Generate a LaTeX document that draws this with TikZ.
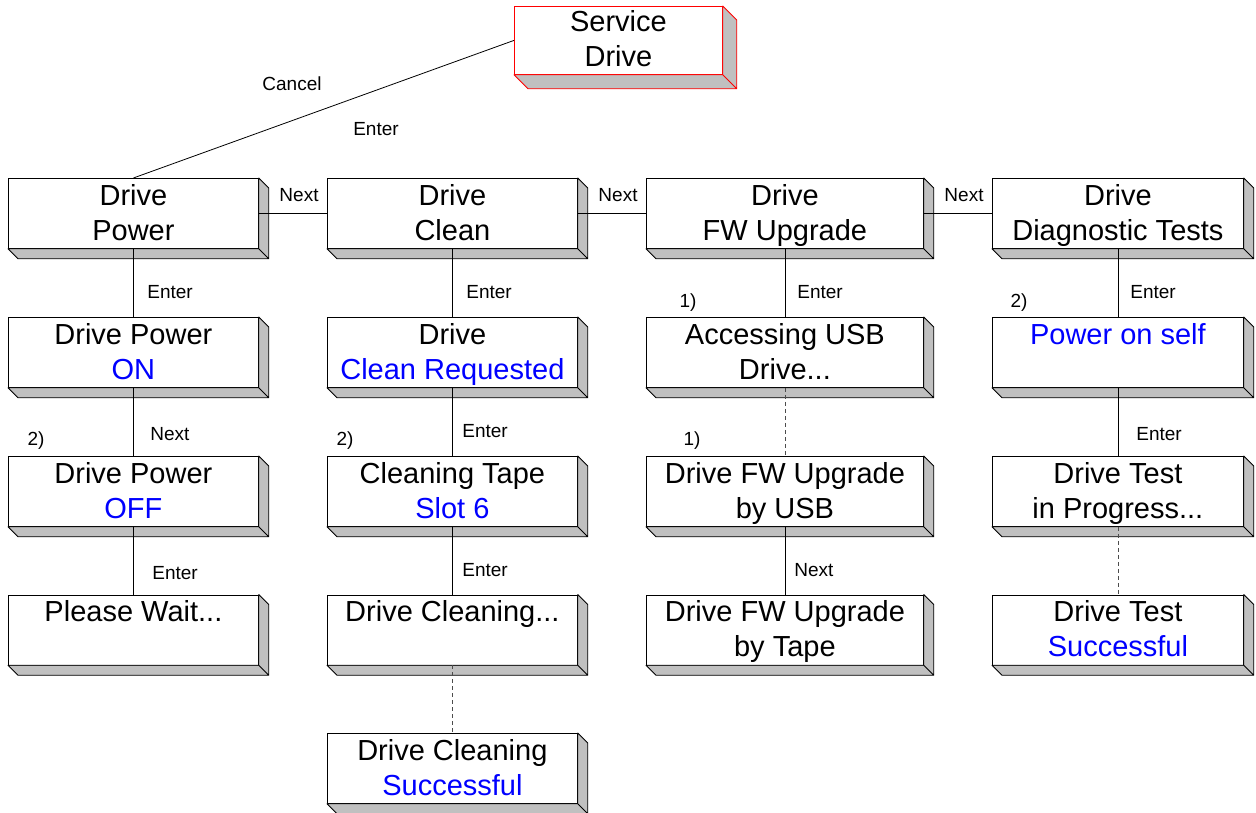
\documentclass[tikz,border=0pt]{standalone}
\usepackage{fontspec}
\setmainfont{Liberation Sans}
\usepackage{xcolor}
\usetikzlibrary{calc}
\definecolor{slabgray}{RGB}{192,192,192}
\definecolor{val}{RGB}{0,0,255}
\definecolor{svc}{RGB}{255,0,0}

\begin{document}
\begin{tikzpicture}[x=1pt,y=-1pt,line width=0.8pt,
    face/.style={draw,fill=white,anchor=north west,minimum height=70pt,inner sep=0pt},
    boxtext/.style={anchor=north,align=center,inner sep=0pt,font=\fontsize{29}{35}\selectfont},
    slab/.style={draw,fill=slabgray,line join=round},
    key/.style={font=\fontsize{19}{22}\selectfont,inner sep=0pt},
    hidden/.style={draw=black!70,dash pattern=on 4pt off 3pt}]
    \useasboundingbox (0,0) rectangle (1256,813);
    \node[face,draw=svc,minimum width=208pt,minimum height=68pt] (sd) at (514,6) {};
    \node[boxtext] (sd-t) at ([yshift=-4pt]sd.north) {Service\\Drive};
    \draw[slab,draw=svc] (sd.south west) -- ([shift={(14,14)}]sd.south west)
      -- ([shift={(14,14)}]sd.south east) -- ([shift={(14,14)}]sd.north east)
      -- (sd.north east) -- (sd.south east) -- cycle
      (sd.south east) -- ([shift={(14,14)}]sd.south east);
    \foreach \n/\x/\y/\w/\txt in {
      dpw/8/178/250/{Drive\\Power},
      dpwon/8/317/250/{Drive Power\\\textcolor{val}{ON}},
      dpwoff/8/456/250/{Drive Power\\\textcolor{val}{OFF}},
      wait/8/594.5/250/{Please Wait...},
      dcl/327/178/250/{Drive\\Clean},
      clreq/327/317/250/{Drive\\\textcolor{val}{Clean Requested}},
      tape/327/456/250/{Cleaning Tape\\\textcolor{val}{Slot 6}},
      cleaning/327/594.5/250/{Drive Cleaning...},
      clok/327/733/250/{Drive Cleaning\\\textcolor{val}{Successful}},
      dfw/646/178/277/{Drive\\FW Upgrade},
      usb/646/317/277/{Accessing USB\\Drive...},
      byusb/646/456/277/{Drive FW Upgrade\\by USB},
      bytape/646/594.5/277/{Drive FW Upgrade\\by Tape},
      ddg/992/178/251/{Drive\\Diagnostic Tests},
      post/992/317/251/{\textcolor{val}{Power on self}},
      test/992/456/251/{Drive Test\\in Progress...},
      testok/992/594.5/251/{Drive Test\\\textcolor{val}{Successful}}}{
      \node[face,minimum width=\w pt] (\n) at (\x,\y) {};
      \node[boxtext] (\n-t) at ([yshift=-6pt]\n.north) {\txt};
      \draw[slab] (\n.south west) -- ([shift={(10,10)}]\n.south west)
        -- ([shift={(10,10)}]\n.south east) -- ([shift={(10,10)}]\n.north east)
        -- (\n.north east) -- (\n.south east) -- cycle
        (\n.south east) -- ([shift={(10,10)}]\n.south east);
    }
    \draw (sd.west) -- (dpw.north);
    \foreach \a/\b in {dpw/dcl,dcl/dfw,dfw/ddg}
      \draw (\a.east) -- (\b.west);
    \foreach \a/\b in {dpw/dpwon,dpwon/dpwoff,dpwoff/wait,dcl/clreq,clreq/tape,
      tape/cleaning,dfw/usb,byusb/bytape,ddg/post,post/test}
      \draw (\a.south) -- (\b.north);
    \foreach \a/\b in {cleaning/clok,usb/byusb,test/testok}
      \draw[hidden] (\a.south) -- (\b.north);
    \node[key] (cancel) at (292,84) {Cancel};
    \node[key] (enter) at (376,129) {Enter};
    \foreach \x/\n in {299/1,618/2,964/3}
      \node[key] (next\n) at (\x,195) {Next};
    \foreach \x/\y/\lbl/\n in {147/292/Enter/a,150/434/Next/b,152/573/Enter/c,
      466/292/Enter/d,462/431/Enter/e,462/570/Enter/f,797/292/Enter/g,
      794/570/Next/h,1130/292/Enter/i,1136/434/Enter/j}
      \node[key,anchor=west] (k\n) at (\x,\y) {\lbl};
    \foreach \x/\y/\lbl/\n in {36/441/2)/a,345/441/2)/b,688/303/1)/c,
      692/441/1)/d,1019/303/2)/e}
      \node[key] (note\n) at (\x,\y) {\lbl};
  \end{tikzpicture}
\end{document}
